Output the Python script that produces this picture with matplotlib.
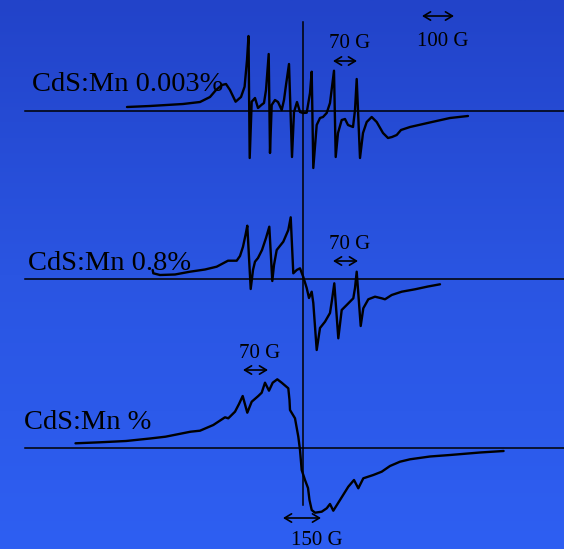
import numpy as np
import matplotlib
matplotlib.use("Agg")
import matplotlib.pyplot as plt
from matplotlib.colors import LinearSegmentedColormap

# ---- data: EPR spectra (field position, signal amplitude relative to each baseline) ----
field_1 = [127, 150, 183, 200, 210, 216, 222, 226, 230, 235.6, 241, 244.6, 247, 248.5, 249.7, 251.7, 255, 258,
           261.7, 264, 266, 268.7, 270, 271.7, 275, 278, 281.7, 284, 286, 289, 292, 294, 297, 300, 303, 306.7,
           310, 311.7, 313.3, 316.7, 320, 323, 326.7, 330, 334, 335.7, 338, 341.7, 345, 348, 353, 355, 356.7,
           360, 363, 366.7, 371.7, 376.7, 383, 388, 392, 396.7, 401, 410, 432, 450, 468]
signal_1 = [4, 5, 7, 9, 14, 21, 26, 27, 21, 9.3, 14, 24.3, 51, 75, -47, 9.3, 13, 3,
            6.3, 8, 21, 57, -42, 6, 11, 9, 1, 11, 26, 47, -46, -1, 9, -1, -2, -1.7,
            18, 39.3, -57, -14, -7, -6, -2, 8, 40.3, -46, -22, -9, -8, -14, -16, 1, 32,
            -47, -22, -11, -6, -11, -22, -27, -26, -24, -19, -16, -11, -7, -5]

field_2 = [152.7, 153.3, 160, 175, 190, 205, 216.7, 228, 236.7, 240, 243, 245.5, 247.3, 250.7, 253, 255, 258,
           262, 266, 269.3, 272.3, 274, 276.7, 283.3, 288.3, 290.7, 293.3, 296.7, 300, 303.3, 306.7, 309,
           311.7, 313.3, 316.7, 320, 325, 330, 332, 334.3, 338.3, 341.7, 346.7, 353.3, 355, 356.7, 360.7,
           363.3, 368.3, 375, 381.7, 385, 391.7, 401.7, 415, 428, 440]
signal_2 = [9, 5.7, 4, 4.5, 7.3, 9.5, 12.3, 18.3, 18.3, 23, 32.3, 44, 53.3, -10, 9, 17.3, 21,
            29, 41, 52.3, -2, 14, 29, 37.3, 49, 61.7, 5.7, 9, 10.7, 2, -9, -19,
            -12.7, -24, -71, -49, -42.7, -34, -21, -4.3, -59.3, -31, -26, -19.3, -9, 7.3, -47,
            -29.3, -20.3, -17.7, -19.3, -20.3, -16, -12.7, -10.3, -7.5, -5.3]

field_3 = [75.5, 100, 126, 150, 165.5, 190.6, 200, 213.3, 225, 228.3, 235, 239, 242.7, 247.3, 251.7, 258.3,
           261.7, 265, 269, 272.7, 277.3, 281.7, 288.3, 289.5, 290, 295, 298.3, 300, 301.7, 305, 308,
           309.5, 311.7, 315, 321.7, 326.7, 330, 333.3, 340, 348.3, 354, 358.3, 363.3, 373.3, 381.7, 390,
           400, 410, 430, 450, 480, 503.6]
signal_3 = [4.7, 5.7, 7, 9.5, 11.3, 16.3, 17.3, 23, 30.7, 29.7, 36.3, 44, 52, 35.3, 46.3, 52,
            55.3, 65.3, 57.3, 65.3, 68.7, 65.3, 59.7, 48, 38, 29.7, 11.3, -2, -22, -32, -40,
            -52, -62, -64.7, -63.7, -60.3, -56, -62.7, -52, -38.7, -32, -40.3, -30.3, -27, -23.7, -18,
            -13.7, -11.3, -8.5, -7, -4.5, -3]

labels = ["CdS:Mn 0.003%", "CdS:Mn 0.8%", "CdS:Mn %"]
scale_labels = ["70 G", "100 G", "70 G", "70 G", "150 G"]

# ---- figure ----
W, H = 564, 549
fig = plt.figure(figsize=(W / 100, H / 100), dpi=100)
ax = fig.add_axes([0, 0, 1, 1])
ax.set_xlim(0, W)
ax.set_ylim(H, 0)
ax.axis("off")

cmap = LinearSegmentedColormap.from_list("bg", ["#2243c9", "#2a55e2", "#2e5ff2"])
grad = np.linspace(0, 1, 256).reshape(-1, 1)
ax.imshow(grad, cmap=cmap, extent=[0, W, H, 0], aspect="auto", zorder=0)

baselines = [111, 279, 448]
lw_axis = 1.1
for b in baselines:
    ax.plot([25, W], [b, b], color="black", lw=lw_axis, zorder=2)
ax.plot([303, 303], [22, 505], color="black", lw=lw_axis, zorder=2)

for f, s, b in zip([field_1, field_2, field_3], [signal_1, signal_2, signal_3], baselines):
    ax.plot(f, b - np.asarray(s), color="black", lw=1.7, solid_joinstyle="round",
            solid_capstyle="round", zorder=3)

serif = "Liberation Serif"
label_pos = [(32, 91), (28, 270), (24, 429)]
for t, (x, y) in zip(labels, label_pos):
    ax.text(x, y, t, fontsize=20.5, family=serif, ha="left", va="baseline", color="black", zorder=4)

scale_text_pos = [(349.5, 48), (442.5, 46), (349.5, 249), (260, 358), (317, 545)]
for t, (x, y) in zip(scale_labels, scale_text_pos):
    ax.text(x, y, t, fontsize=15, family=serif, ha="center", va="baseline", color="black", zorder=4)

arrows = [(333, 357, 61), (422, 454, 16), (333, 358, 261), (243, 268, 370), (283, 321, 518)]
for x0, x1, y in arrows:
    ax.annotate("", xy=(x1, y), xytext=(x0, y),
                arrowprops=dict(arrowstyle="<->,head_length=0.5,head_width=0.3",
                                color="black", lw=1.2, shrinkA=0, shrinkB=0),
                zorder=4)

fig.savefig("out.png", dpi=100)
